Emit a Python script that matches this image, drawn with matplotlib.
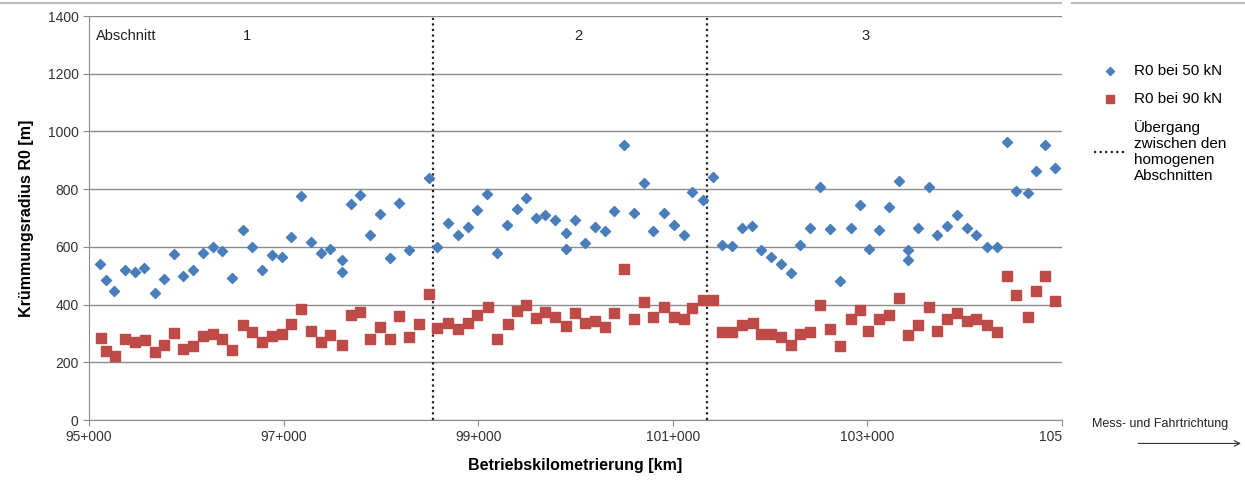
import matplotlib.pyplot as plt
from matplotlib.lines import Line2D

plt.rcParams["font.family"] = ["Liberation Sans", "DejaVu Sans"]

# R0 at 50 kN (km, m)
km_50 = [95.11, 95.17, 95.26, 95.37, 95.47, 95.57, 95.68, 95.77, 95.87, 95.97,
         96.07, 96.17, 96.27, 96.37, 96.47, 96.58, 96.68, 96.78, 96.88, 96.98,
         97.08, 97.18, 97.28, 97.38, 97.48, 97.60, 97.60, 97.69, 97.79, 97.89,
         97.99, 98.09, 98.19, 98.29, 98.49,
         98.58, 98.69, 98.79, 98.89, 98.99, 99.09, 99.19, 99.30, 99.40, 99.49,
         99.59, 99.69, 99.79, 99.90, 99.90, 99.99, 100.10, 100.20, 100.30, 100.40,
         100.50, 100.60, 100.70, 100.80, 100.91, 101.01, 101.11, 101.20, 101.31, 101.41,
         101.51, 101.61, 101.71, 101.81, 101.91, 102.01, 102.11, 102.21, 102.31, 102.41,
         102.51, 102.62, 102.72, 102.83, 102.92, 103.02, 103.12, 103.22, 103.32, 103.42,
         103.42, 103.52, 103.63, 103.72, 103.82, 103.92, 104.02, 104.12, 104.23, 104.33,
         104.43, 104.53, 104.65, 104.73, 104.83, 104.93]
r0_50 = [540, 485, 447, 521, 513, 528, 441, 489, 574, 500,
         521, 580, 599, 587, 493, 657, 598, 519, 572, 565,
         635, 776, 616, 580, 593, 554, 514, 750, 781, 640,
         713, 563, 751, 589, 840,
         600, 683, 640, 668, 729, 783, 579, 676, 730, 768,
         701, 709, 693, 647, 594, 693, 612, 670, 656, 725,
         952, 717, 821, 655, 717, 675, 641, 789, 764, 841,
         606, 603, 667, 674, 590, 566, 539, 510, 605, 665,
         809, 663, 483, 664, 745, 591, 659, 737, 828, 588,
         554, 664, 808, 641, 674, 709, 664, 641, 600, 600,
         962, 795, 788, 863, 954, 874]

# R0 at 90 kN (km, m)
km_90 = [95.12, 95.17, 95.27, 95.37, 95.47, 95.58, 95.68, 95.77, 95.87, 95.97,
         96.07, 96.17, 96.27, 96.37, 96.47, 96.58, 96.68, 96.78, 96.88, 96.98,
         97.08, 97.18, 97.28, 97.38, 97.48, 97.60, 97.69, 97.79, 97.89, 97.99,
         98.09, 98.19, 98.29, 98.39, 98.49,
         98.58, 98.69, 98.79, 98.89, 98.99, 99.10, 99.19, 99.31, 99.40, 99.49,
         99.59, 99.69, 99.79, 99.90, 99.99, 100.10, 100.20, 100.30, 100.40, 100.50,
         100.60, 100.70, 100.80, 100.91, 101.01, 101.11, 101.20, 101.31, 101.41,
         101.51, 101.61, 101.71, 101.82, 101.91, 102.01, 102.11, 102.21, 102.31, 102.41,
         102.51, 102.62, 102.72, 102.83, 102.92, 103.01, 103.12, 103.22, 103.32, 103.42,
         103.52, 103.63, 103.72, 103.82, 103.92, 104.02, 104.12, 104.23, 104.33, 104.43,
         104.53, 104.65, 104.73, 104.83, 104.93]
r0_90 = [284, 238, 223, 282, 269, 277, 235, 261, 303, 245,
         258, 290, 297, 280, 242, 328, 306, 271, 291, 297,
         333, 385, 309, 269, 295, 259, 364, 374, 282, 323,
         282, 361, 288, 333, 435,
         319, 337, 314, 337, 363, 393, 282, 333, 377, 397,
         355, 373, 358, 327, 370, 336, 343, 323, 370, 524,
         349, 410, 357, 390, 357, 349, 389, 417, 417,
         305, 305, 330, 337, 298, 298, 286, 261, 298, 305,
         397, 314, 256, 349, 381, 309, 350, 365, 423, 293,
         330, 390, 310, 349, 371, 344, 349, 330, 305, 499,
         432, 358, 446, 499, 412]

borders = [98.535, 101.35]
section_names = ["1", "2", "3"]
section_pos = [96.62, 100.03, 102.98]
x_ticks = [95, 97, 99, 101, 103, 105]
x_ticklabels = ["95+000", "97+000", "99+000", "101+000", "103+000", "105"]

BLUE = "#4a7ebb"
RED = "#be4b48"
GRID = "#8c8c8c"

fig = plt.figure(figsize=(12.45, 4.82), dpi=100)
ax = fig.add_axes([0.0715, 0.1286, 0.7815, 0.8382])

ax.scatter(km_50, r0_50, marker="D", s=26, color=BLUE, zorder=3,
           label="R0 bei 50 kN")
ax.scatter(km_90, r0_90, marker="s", s=52, color=RED, zorder=3,
           label="R0 bei 90 kN")
for b in borders:
    ax.axvline(b, color="#222222", linestyle=(0, (1, 1.5)), lw=1.6, zorder=2)
# legend entry for the dotted lines
ax.plot([], [], color="#222222", linestyle=(0, (1, 1.5)), lw=1.6,
        label="Übergang\nzwischen den\nhomogenen\nAbschnitten")

ax.text(95.07, 1330, "Abschnitt", fontsize=10.5, va="center", color="#222222")
for name, p in zip(section_names, section_pos):
    ax.text(p, 1330, name, fontsize=10.5, ha="center", va="center", color="#222222")

ax.set_xlim(95, 105)
ax.set_ylim(0, 1400)
ax.set_yticks(range(0, 1401, 200))
ax.set_xticks(x_ticks)
ax.set_xticklabels(x_ticklabels)
ax.get_xticklabels()[-1].set_horizontalalignment("right")
ax.tick_params(labelsize=10, colors="#333333", length=4, color=GRID)
ax.yaxis.grid(True, color=GRID, lw=1.0)
ax.set_axisbelow(True)
for side in ["top", "right"]:
    ax.spines[side].set_visible(False)
for side in ["left", "bottom"]:
    ax.spines[side].set_color(GRID)

ax.set_ylabel("Krümmungsradius R0 [m]", fontsize=11.5, fontweight="bold", labelpad=10)
ax.set_xlabel("Betriebskilometrierung [km]", fontsize=11.5, fontweight="bold", labelpad=10)

fig.legend(loc="upper left", bbox_to_anchor=(0.868, 0.895), frameon=False,
           fontsize=11, handlelength=2.0, handletextpad=0.6, labelspacing=0.9,
           markerscale=0.8)

# direction note + arrow
fig.text(0.932, 0.12, "Mess- und Fahrtrichtung", fontsize=9, ha="center", va="center",
         color="#222222")
fig.add_artist(plt.Annotation("", xy=(0.999, 0.08), xytext=(0.912, 0.08),
                              xycoords="figure fraction",
                              arrowprops=dict(arrowstyle="->", color="#333333", lw=0.8)))
# top frame line
fig.add_artist(Line2D([0, 0.852], [0.993, 0.993], color="#bbbbbb", lw=1.5))
fig.add_artist(Line2D([0.861, 1], [0.993, 0.993], color="#bbbbbb", lw=1.5))

plt.savefig("out.png", dpi=100)
